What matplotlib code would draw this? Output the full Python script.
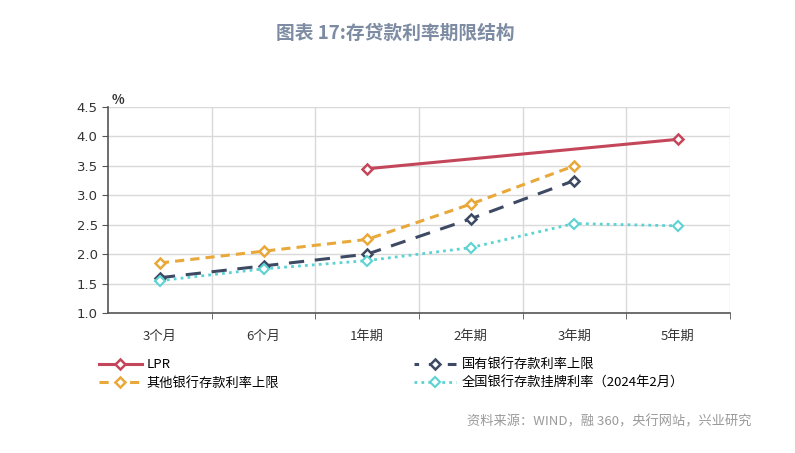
import matplotlib
matplotlib.use("Agg")
import matplotlib.pyplot as plt
import numpy as np

plt.rcParams['font.family'] = ['Noto Sans CJK SC', 'DejaVu Sans']

categories = ['3个月', '6个月', '1年期', '2年期', '3年期', '5年期']
lpr = [np.nan, np.nan, 3.45, np.nan, np.nan, 3.95]
state_upper = [1.60, 1.80, 2.00, 2.60, 3.25, np.nan]
other_upper = [1.85, 2.05, 2.25, 2.85, 3.50, np.nan]
national_listed = [1.55, 1.75, 1.89, 2.11, 2.52, 2.48]
yticks = [1.0, 1.5, 2.0, 2.5, 3.0, 3.5, 4.0, 4.5]

fig = plt.figure(figsize=(7.95, 4.53), dpi=100)
ax = fig.add_axes([0.136, 0.309, 0.782, 0.455])

x = np.arange(len(categories))

def plot_series(vals, **kw):
    v = np.array(vals, dtype=float)
    m = ~np.isnan(v)
    return ax.plot(x[m], v[m], **kw)[0]

h1 = plot_series(lpr, color='#C4465A', lw=2.2, marker='D', ms=5.5, mfc='white', mec='#C4465A', mew=1.8, label='LPR')
h2 = plot_series(state_upper, color='#3E4A63', lw=2.2, ls=(0, (5, 3.5)), marker='D', ms=5.5, mfc='white', mec='#3E4A63', mew=1.8, label='国有银行存款利率上限')
h3 = plot_series(other_upper, color='#E9A83A', lw=2.2, ls=(0, (3, 2)), marker='D', ms=5.5, mfc='white', mec='#E9A83A', mew=1.8, label='其他银行存款利率上限')
h4 = plot_series(national_listed, color='#5CD2D2', lw=2.0, ls=(0, (1, 1.5)), marker='D', ms=5.5, mfc='white', mec='#5CD2D2', mew=1.5, label='全国银行存款挂牌利率（2024年2月）')

ax.set_xlim(-0.5, len(categories) - 0.5)
ax.set_ylim(1.0, 4.5)
ax.set_yticks(yticks)
ax.set_yticklabels([f'{v:.1f}' for v in yticks], fontsize=9.5, color='#333333', family=['DejaVu Sans'])
ax.set_xticks(x)
ax.set_xticklabels(categories, fontsize=9.5, color='#333333')
ax.set_xticks(np.arange(len(categories)) + 0.5, minor=True)
ax.tick_params(axis='x', which='major', length=0, pad=12)
ax.tick_params(axis='x', which='minor', length=4, direction='out', color='#555555')
ax.tick_params(axis='y', length=4, direction='out', color='#555555')

ax.grid(True, which='minor', axis='x', color='#D9D9D9', lw=1)
ax.grid(True, which='major', axis='y', color='#D9D9D9', lw=1)
ax.set_axisbelow(True)
for s in ['top', 'right']:
    ax.spines[s].set_visible(False)
for s in ['left', 'bottom']:
    ax.spines[s].set_color('#555555')
    ax.spines[s].set_linewidth(1.2)

ax.text(0.005, 1.0, '%', transform=ax.transAxes, fontsize=9.5, color='#333333', ha='left', va='bottom', fontweight='bold')

leg = fig.legend(handles=[h1, h3, h2, h4], loc='upper left', bbox_to_anchor=(0.11, 0.235),
                 ncol=2, frameon=False, fontsize=9.5, handlelength=3.2, columnspacing=10.2,
                 labelspacing=0.4, handletextpad=0.4)
# make the state-bank dashed handle show its gaps like the reference
for line, text in zip(leg.get_lines(), leg.get_texts()):
    if text.get_text().startswith('国有'):
        line.set_linestyle((1.5, (3, 3.2)))

fig.text(0.497, 0.927, '图表 17:存贷款利率期限结构', ha='center', va='center', fontsize=13.5,
         fontweight='bold', color='#7D8CA3')
fig.text(0.945, 0.068, '资料来源：WIND，融 360，央行网站，兴业研究', ha='right', va='center', fontsize=9.5,
         color='#9A9A9A')

fig.savefig('out.png', dpi=100)
